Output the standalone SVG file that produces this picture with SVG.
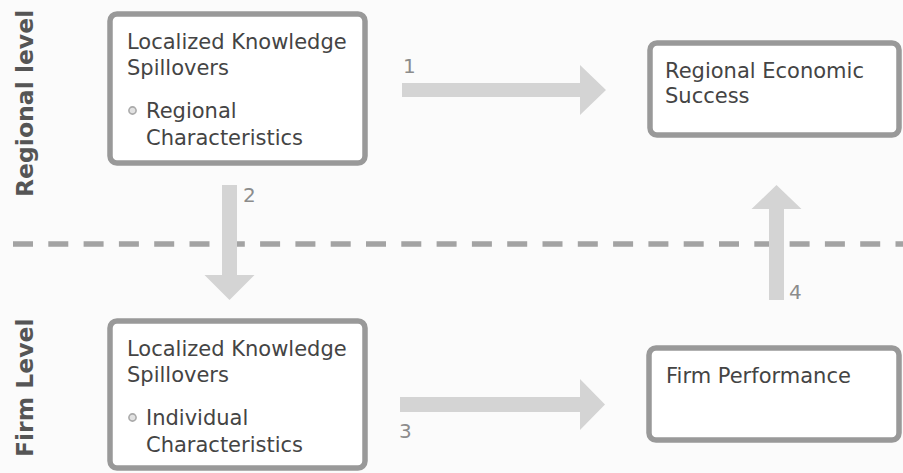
<svg xmlns="http://www.w3.org/2000/svg" width="903" height="473" viewBox="0 0 903 473">
<style>
.box{fill:#ffffff;stroke:#999999;stroke-width:5.5}
.t{font-family:"DejaVu Sans",sans-serif;font-size:21px;fill:#444444}
.side{font-family:"DejaVu Sans",sans-serif;font-size:23.5px;font-weight:bold;fill:#555555}
.num{font-family:"DejaVu Sans",sans-serif;font-size:20px;fill:#8c8c8c}
.arrow{fill:#d4d4d4}
.bullet{fill:#e2e2e2;stroke:#aaaaaa;stroke-width:1.6}
</style>
<rect x="0" y="0" width="903" height="473" fill="#fbfbfb"/>
<g id="side-labels">
<text class="side" transform="translate(33,197) rotate(-90)">Regional level</text>
<text class="side" transform="translate(33,457) rotate(-90)">Firm Level</text>
</g>
<line x1="13" y1="244" x2="903" y2="244" stroke="#a3a3a3" stroke-width="5.5" stroke-dasharray="20 15.3"/>
<g id="node-regional-spillovers">
<rect class="box" x="110" y="14" width="255" height="149" rx="7"/>
<text class="t" x="127" y="49">Localized Knowledge</text>
<text class="t" x="127" y="75">Spillovers</text>
<circle class="bullet" cx="132.5" cy="110.5" r="3.6"/>
<text class="t" x="146" y="118">Regional</text>
<text class="t" x="146" y="145">Characteristics</text>
</g>
<g id="node-regional-success">
<rect class="box" x="650" y="43" width="249" height="92" rx="7"/>
<text class="t" x="665" y="78">Regional Economic</text>
<text class="t" x="665" y="103">Success</text>
</g>
<g id="node-firm-spillovers">
<rect class="box" x="110" y="321" width="255" height="147" rx="7"/>
<text class="t" x="127" y="356">Localized Knowledge</text>
<text class="t" x="127" y="382">Spillovers</text>
<circle class="bullet" cx="132.5" cy="417.5" r="3.6"/>
<text class="t" x="146" y="425">Individual</text>
<text class="t" x="146" y="452">Characteristics</text>
</g>
<g id="node-firm-performance">
<rect class="box" x="649" y="348" width="250" height="92" rx="7"/>
<text class="t" x="666" y="383">Firm Performance</text>
</g>
<g id="connectors">
<polygon class="arrow" points="402,83 580,83 580,65 606,90 580,115 580,97 402,97"/>
<text class="num" x="403" y="73">1</text>
<polygon class="arrow" points="222,185 237,185 237,275 254.5,275 229.5,300 204.5,275 222,275"/>
<text class="num" x="243" y="202">2</text>
<polygon class="arrow" points="400,397 580,397 580,379 605,404.5 580,430 580,412 400,412"/>
<text class="num" x="399" y="438">3</text>
<polygon class="arrow" points="769,300 784,300 784,209 801.5,209 776.5,185 751.5,209 769,209"/>
<text class="num" x="789" y="299">4</text>
</g>
</svg>
